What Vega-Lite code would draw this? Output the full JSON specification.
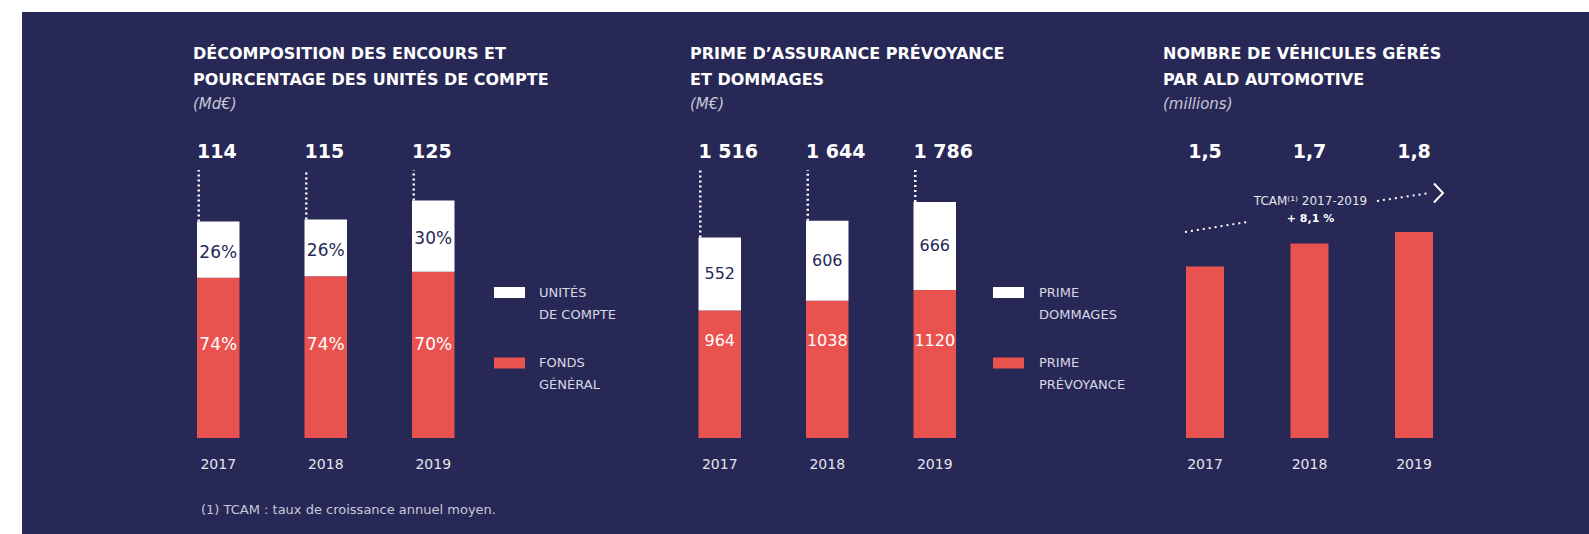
{
  "$schema": "https://vega.github.io/schema/vega-lite/v6.json",
  "background": "#ffffff",
  "padding": {"left": 22, "top": 12, "right": 0, "bottom": 0},
  "bounds": "flush",
  "spacing": 0,
  "resolve": {"scale": {"color": "independent"}, "legend": {"color": "independent"}},
  "config": {
    "view": {"stroke": null, "fill": "#272856"},
    "locale": {"number": {"decimal": ",", "thousands": " ", "grouping": [3], "currency": ["", " €"]}},
    "axisX": {"domain": false, "ticks": false, "grid": false, "labelFont": "DejaVu Sans", "labelFontSize": 14, "labelColor": "#e4e4ee", "labelPadding": 2, "offset": -78.5, "labelAngle": 0},
    "title": {"anchor": "start", "frame": "group", "color": "#ffffff", "font": "DejaVu Sans", "fontSize": 16, "fontWeight": "bold", "lineHeight": 26, "subtitleColor": "#c6c6d8", "subtitleFont": "DejaVu Sans", "subtitleFontSize": 15, "subtitleFontStyle": "italic", "subtitlePadding": 9, "offset": -100},
    "legend": {"direction": "vertical", "symbolType": "M-1,-0.355H1V0.355H-1Z", "symbolSize": 961, "symbolStrokeWidth": 0, "symbolOpacity": 1, "labelFont": "DejaVu Sans", "labelFontSize": 13, "labelColor": "#d8d8e4", "labelLimit": 200, "rowPadding": 25.5, "padding": 0}
  },
  "hconcat": [
    {
      "width": 643,
      "height": 522,
      "title": {"text": ["DÉCOMPOSITION DES ENCOURS ET", "POURCENTAGE DES UNITÉS DE COMPTE"], "subtitle": "(Md€)", "dx": 171},
      "data": {"values": [
        {"year": "2017", "part": "FONDS GÉNÉRAL", "value": 84.4, "pct": "74%"},
        {"year": "2017", "part": "UNITÉS DE COMPTE", "value": 29.6, "pct": "26%"},
        {"year": "2018", "part": "FONDS GÉNÉRAL", "value": 85.1, "pct": "74%"},
        {"year": "2018", "part": "UNITÉS DE COMPTE", "value": 29.9, "pct": "26%"},
        {"year": "2019", "part": "FONDS GÉNÉRAL", "value": 87.5, "pct": "70%"},
        {"year": "2019", "part": "UNITÉS DE COMPTE", "value": 37.5, "pct": "30%"}
      ]},
      "layer": [
        {
          "transform": [{"stack": "value", "groupby": ["year"], "sort": [{"field": "part", "order": "ascending"}], "as": ["v0", "v1"]}],
          "mark": {"type": "bar"},
          "encoding": {
            "x": {"field": "year", "type": "nominal", "title": null, "scale": {"type": "band", "paddingInner": 0.6047, "paddingOuter": 0, "range": [175, 432.5]}},
            "y": {"field": "v1", "type": "quantitative", "scale": {"domain": [-50.526, 224.211], "nice": false, "zero": false}, "axis": null},
            "y2": {"field": "v0"},
            "color": {"field": "part", "type": "nominal", "scale": {"domain": ["UNITÉS DE COMPTE", "FONDS GÉNÉRAL"], "range": ["#ffffff", "#e9524e"]},
              "legend": {"title": null, "orient": "none", "legendX": 472, "legendY": 265, "labelOffset": 14,
                "labelExpr": "[slice(datum.label, 0, indexof(datum.label, ' ')), slice(datum.label, indexof(datum.label, ' ') + 1)]",
                "encode": {"labels": {"update": {"lineHeight": {"value": 22}}}}}}
          }
        },
        {
          "mark": {"type": "rule", "color": "#ffffff", "strokeWidth": 2.5, "strokeDash": [2, 3], "xOffset": -19.5},
          "encoding": {
            "x": {"field": "year", "type": "nominal", "title": null},
            "y": {"aggregate": "sum", "field": "value", "type": "quantitative", "axis": null},
            "y2": {"datum": 141}
          }
        },
        {
          "mark": {"type": "text", "align": "left", "baseline": "middle", "dx": -21.25, "font": "DejaVu Sans", "fontWeight": "bold", "fontSize": 19, "color": "#ffffff"},
          "encoding": {
            "x": {"field": "year", "type": "nominal", "title": null},
            "y": {"datum": 150.5, "type": "quantitative", "axis": null},
            "text": {"aggregate": "sum", "field": "value", "type": "quantitative", "format": "d"}
          }
        },
        {
          "transform": [
            {"stack": "value", "groupby": ["year"], "sort": [{"field": "part", "order": "ascending"}], "as": ["v0", "v1"]},
            {"filter": "datum.part == 'UNITÉS DE COMPTE'"},
            {"fold": ["v0", "v1"], "as": ["k", "v"]}
          ],
          "mark": {"type": "text", "align": "center", "baseline": "middle", "dy": 3, "font": "DejaVu Sans", "fontSize": 17, "color": "#272856"},
          "encoding": {
            "x": {"field": "year", "type": "nominal", "title": null},
            "y": {"aggregate": "mean", "field": "v", "type": "quantitative", "axis": null},
            "text": {"field": "pct", "type": "nominal"}
          }
        },
        {
          "transform": [{"filter": "datum.part == 'FONDS GÉNÉRAL'"}],
          "mark": {"type": "text", "align": "center", "baseline": "middle", "font": "DejaVu Sans", "fontSize": 17, "color": "#ffffff"},
          "encoding": {
            "x": {"field": "year", "type": "nominal", "title": null},
            "y": {"datum": 49, "type": "quantitative", "axis": null},
            "text": {"field": "pct", "type": "nominal"}
          }
        },
        {
          "data": {"values": [{"note": "(1) TCAM : taux de croissance annuel moyen."}]},
          "mark": {"type": "text", "align": "left", "baseline": "middle", "dx": -17.25, "font": "DejaVu Sans", "fontSize": 13, "color": "#c8c8d8"},
          "encoding": {
            "x": {"datum": "2017", "type": "nominal", "title": null},
            "y": {"datum": -37.9, "type": "quantitative", "axis": null},
            "text": {"field": "note", "type": "nominal"}
          }
        }
      ]
    },
    {
      "width": 475,
      "height": 522,
      "title": {"text": ["PRIME D’ASSURANCE PRÉVOYANCE", "ET DOMMAGES"], "subtitle": "(M€)", "dx": 25},
      "data": {"values": [
        {"year": "2017", "part": "PRIME PRÉVOYANCE", "value": 964},
        {"year": "2017", "part": "PRIME DOMMAGES", "value": 552},
        {"year": "2018", "part": "PRIME PRÉVOYANCE", "value": 1038},
        {"year": "2018", "part": "PRIME DOMMAGES", "value": 606},
        {"year": "2019", "part": "PRIME PRÉVOYANCE", "value": 1120},
        {"year": "2019", "part": "PRIME DOMMAGES", "value": 666}
      ]},
      "layer": [
        {
          "transform": [{"stack": "value", "groupby": ["year"], "sort": [{"field": "part", "order": "descending"}], "as": ["v0", "v1"]}],
          "mark": {"type": "bar"},
          "encoding": {
            "x": {"field": "year", "type": "nominal", "title": null, "scale": {"type": "band", "paddingInner": 0.6047, "paddingOuter": 0, "range": [33.5, 291]}},
            "y": {"field": "v1", "type": "quantitative", "scale": {"domain": [-726.2, 3222.4], "nice": false, "zero": false}, "axis": null},
            "y2": {"field": "v0"},
            "color": {"field": "part", "type": "nominal", "scale": {"domain": ["PRIME DOMMAGES", "PRIME PRÉVOYANCE"], "range": ["#ffffff", "#e9524e"]},
              "legend": {"title": null, "orient": "none", "legendX": 328, "legendY": 265, "labelOffset": 15,
                "labelExpr": "[slice(datum.label, 0, indexof(datum.label, ' ')), slice(datum.label, indexof(datum.label, ' ') + 1)]",
                "encode": {"labels": {"update": {"lineHeight": {"value": 22}}}}}}
          }
        },
        {
          "mark": {"type": "rule", "color": "#ffffff", "strokeWidth": 2.5, "strokeDash": [2, 3], "xOffset": -19.5},
          "encoding": {
            "x": {"field": "year", "type": "nominal", "title": null},
            "y": {"aggregate": "sum", "field": "value", "type": "quantitative", "axis": null},
            "y2": {"datum": 2027}
          }
        },
        {
          "mark": {"type": "text", "align": "left", "baseline": "middle", "dx": -21.25, "font": "DejaVu Sans", "fontWeight": "bold", "fontSize": 19, "color": "#ffffff"},
          "encoding": {
            "x": {"field": "year", "type": "nominal", "title": null},
            "y": {"datum": 2163.4, "type": "quantitative", "axis": null},
            "text": {"aggregate": "sum", "field": "value", "type": "quantitative", "format": ",d"}
          }
        },
        {
          "transform": [
            {"stack": "value", "groupby": ["year"], "sort": [{"field": "part", "order": "descending"}], "as": ["v0", "v1"]},
            {"filter": "datum.part == 'PRIME DOMMAGES'"},
            {"fold": ["v0", "v1"], "as": ["k", "v"]}
          ],
          "mark": {"type": "text", "align": "center", "baseline": "middle", "font": "DejaVu Sans", "fontSize": 16, "color": "#272856"},
          "encoding": {
            "x": {"field": "year", "type": "nominal", "title": null},
            "y": {"aggregate": "mean", "field": "v", "type": "quantitative", "axis": null},
            "text": {"aggregate": "min", "field": "value", "type": "quantitative", "format": "d"}
          }
        },
        {
          "transform": [{"filter": "datum.part == 'PRIME PRÉVOYANCE'"}],
          "mark": {"type": "text", "align": "center", "baseline": "middle", "font": "DejaVu Sans", "fontSize": 16, "color": "#ffffff"},
          "encoding": {
            "x": {"field": "year", "type": "nominal", "title": null},
            "y": {"datum": 730, "type": "quantitative", "axis": null},
            "text": {"field": "value", "type": "quantitative", "format": "d"}
          }
        }
      ]
    },
    {
      "width": 449,
      "height": 522,
      "title": {"text": ["NOMBRE DE VÉHICULES GÉRÉS", "PAR ALD AUTOMOTIVE"], "subtitle": "(millions)", "dx": 23},
      "data": {"values": [
        {"year": "2017", "value": 1.5},
        {"year": "2018", "value": 1.7},
        {"year": "2019", "value": 1.8}
      ]},
      "layer": [
        {
          "mark": {"type": "bar", "color": "#e9524e"},
          "encoding": {
            "x": {"field": "year", "type": "nominal", "title": null, "scale": {"type": "band", "paddingInner": 0.6364, "paddingOuter": 0, "range": [46, 293]}},
            "y": {"field": "value", "type": "quantitative", "scale": {"domain": [-0.8392, 3.7238], "nice": false, "zero": false}, "axis": null}
          }
        },
        {
          "mark": {"type": "text", "align": "center", "baseline": "middle", "font": "DejaVu Sans", "fontWeight": "bold", "fontSize": 19, "color": "#ffffff"},
          "encoding": {
            "x": {"field": "year", "type": "nominal", "title": null},
            "y": {"datum": 2.5, "type": "quantitative", "axis": null},
            "text": {"field": "value", "type": "quantitative", "format": ".1f"}
          }
        },
        {
          "data": {"values": [{"label": "TCAM⁽¹⁾ 2017-2019", "rate": "+ 8,1 %"}]},
          "layer": [
            {
              "mark": {"type": "text", "align": "center", "baseline": "middle", "dx": 1, "font": "DejaVu Sans", "fontSize": 12, "color": "#e4e4ee"},
              "encoding": {
                "x": {"datum": "2018", "type": "nominal", "title": null},
                "y": {"datum": 2.072, "type": "quantitative", "axis": null},
                "text": {"field": "label", "type": "nominal"}
              }
            },
            {
              "mark": {"type": "text", "align": "center", "baseline": "middle", "dx": 1, "font": "DejaVu Sans", "fontWeight": "bold", "fontSize": 11, "color": "#ffffff"},
              "encoding": {
                "x": {"datum": "2018", "type": "nominal", "title": null},
                "y": {"datum": 1.914, "type": "quantitative", "axis": null},
                "text": {"field": "rate", "type": "nominal"}
              }
            },
            {
              "mark": {"type": "rule", "color": "#ffffff", "strokeWidth": 2, "strokeDash": [2, 4], "xOffset": -20, "x2Offset": 42},
              "encoding": {
                "x": {"datum": "2017", "type": "nominal", "title": null},
                "x2": {"datum": "2017"},
                "y": {"datum": 1.8007, "type": "quantitative", "axis": null},
                "y2": {"datum": 1.888}
              }
            },
            {
              "mark": {"type": "rule", "color": "#ffffff", "strokeWidth": 2, "strokeDash": [2, 4], "xOffset": -37, "x2Offset": 16},
              "encoding": {
                "x": {"datum": "2019", "type": "nominal", "title": null},
                "x2": {"datum": "2019"},
                "y": {"datum": 2.0717, "type": "quantitative", "axis": null},
                "y2": {"datum": 2.1416}
              }
            },
            {
              "mark": {"type": "point", "shape": "M-0.95,-1L0,0L-0.95,1", "size": 361, "filled": false, "stroke": "#ffffff", "strokeWidth": 2, "opacity": 1, "xOffset": 29},
              "encoding": {
                "x": {"datum": "2019", "type": "nominal", "title": null},
                "y": {"datum": 2.1416, "type": "quantitative", "axis": null}
              }
            }
          ]
        }
      ]
    }
  ]
}
